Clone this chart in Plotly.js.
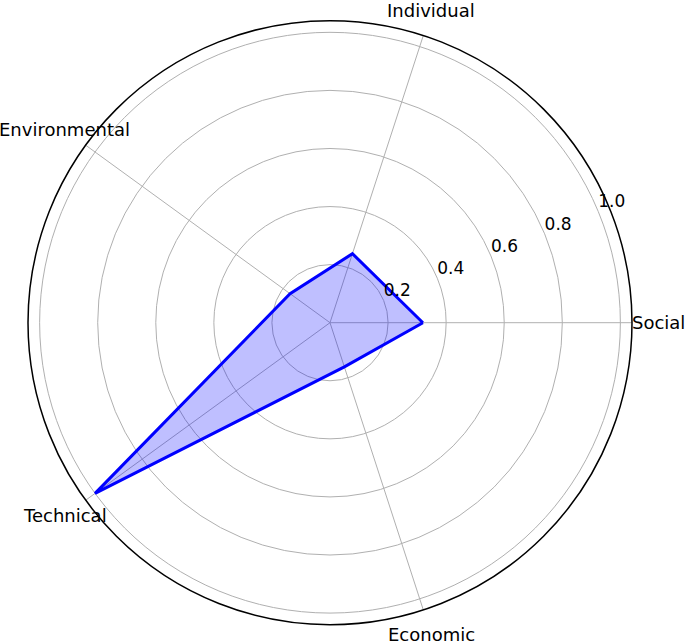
<!DOCTYPE html>
<html>
<head>
<meta charset="utf-8">
<script src="https://cdn.plot.ly/plotly-3.0.1.min.js"></script>
<style>html,body{margin:0;padding:0;background:#fff;}#chart{width:685px;height:642px;}</style>
</head>
<body>
<div id="chart"></div>
<script>
const categories = ["Social", "Individual", "Environmental", "Technical", "Economic"];
const values = [0.32, 0.25, 0.17, 1.0, 0.16];
const radialTicks = [0.2, 0.4, 0.6, 0.8, 1.0];
const radialTickText = ["0.2", "0.4", "0.6", "0.8", "1.0"];

const W = 685, H = 642;
const rMax = 1.04;
const step = 360 / categories.length;
const catAngles = categories.map((c, i) => i * step);
const theta = catAngles.concat([catAngles[0]]);
const r = values.concat([values[0]]);
const labelR = 1.13;
const radialLabelAngle = 22.5;

// polar domain (pixels)
const cx = 330, cy = 322.7, rad = 302;
const domX = [(cx - rad) / W, (cx + rad) / W];
const domY = [(H - (cy + rad)) / H, (H - (cy - rad)) / H];

const fontFam = "DejaVu Sans";
const data = [
  {
    type: "scatterpolar",
    r: r,
    theta: theta,
    mode: "lines",
    fill: "toself",
    fillcolor: "rgba(0,0,255,0.25)",
    line: {color: "#0000ff", width: 3},
    hoverinfo: "skip"
  },
  {
    type: "scatterpolar",
    r: radialTicks,
    theta: radialTicks.map(() => radialLabelAngle),
    mode: "text",
    text: radialTickText,
    textposition: "top right",
    textfont: {family: fontFam, size: 17, color: "#000"},
    cliponaxis: false,
    hoverinfo: "skip"
  }
];

const annotations = categories.map((c, i) => {
  const a = catAngles[i] * Math.PI / 180;
  const px = cx + (labelR / rMax) * rad * Math.cos(a);
  const py = cy - (labelR / rMax) * rad * Math.sin(a);
  return {
    text: c,
    xref: "paper", yref: "paper",
    x: px / W, y: (H - py) / H,
    xanchor: "center", yanchor: "middle",
    showarrow: false,
    font: {family: fontFam, size: 18, color: "#000"}
  };
});

const layout = {
  width: W,
  height: H,
  margin: {l: 0, r: 0, t: 0, b: 0},
  paper_bgcolor: "#ffffff",
  showlegend: false,
  font: {family: fontFam, size: 17, color: "#000"},
  annotations: annotations,
  polar: {
    domain: {x: domX, y: domY},
    bgcolor: "#ffffff",
    radialaxis: {
      range: [0, rMax],
      tickvals: radialTicks,
      showticklabels: false,
      showline: false,
      ticks: "",
      gridcolor: "#b0b0b0",
      gridwidth: 1
    },
    angularaxis: {
      type: "linear",
      thetaunit: "degrees",
      tickvals: catAngles,
      showticklabels: false,
      rotation: 0,
      direction: "counterclockwise",
      showline: true,
      linecolor: "#000",
      linewidth: 1.5,
      ticks: "",
      gridcolor: "#b0b0b0",
      gridwidth: 1
    }
  }
};

Plotly.newPlot("chart", data, layout, {displayModeBar: false, staticPlot: true});
</script>
</body>
</html>
